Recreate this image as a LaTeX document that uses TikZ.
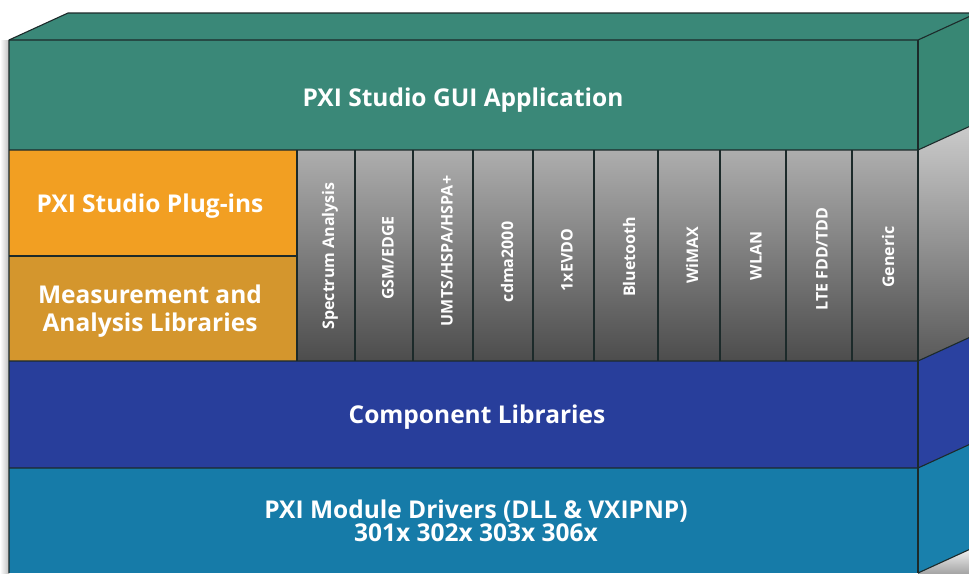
\documentclass[tikz,border=0pt]{standalone}
\usepackage{fontspec}
\setmainfont{Open Sans}
\definecolor{tealF}{HTML}{3A8878}
\definecolor{tealS}{HTML}{388774}
\definecolor{orangeF}{HTML}{F29F22}
\definecolor{ochreF}{HTML}{D4962D}
\definecolor{blueF}{HTML}{283E9B}
\definecolor{blueS}{HTML}{2A41A0}
\definecolor{lblueF}{HTML}{167BA8}
\definecolor{lblueS}{HTML}{1980AC}
\definecolor{edgeC}{HTML}{1C2A2A}
\begin{document}
\begin{tikzpicture}[x=1pt,y=-1pt,
  edge/.style={draw=edgeC, line width=1.1pt, line join=round},
  lbl/.style={text=white, font=\bfseries\fontsize{24.5}{28}\selectfont, align=center, inner sep=0pt},
  tight/.style={font=\bfseries\fontsize{24.5}{23}\selectfont},
  collbl/.style={text=white, font=\bfseries\fontsize{16}{19}\selectfont, rotate=90, inner sep=0pt}]
\useasboundingbox (0,0) rectangle (969,573);
\clip (0,0) rectangle (969,573);
% soft shadow at left and bottom right
\shade[left color=white, right color=black!25] (0,40) rectangle (9,573);
\shade[top color=white, bottom color=black!35] (918,545) -- (969,545) -- (969,573) -- (918,573) -- cycle;
% top face
\fill[tealF] (9,40) -- (68,13) -- (977,13) -- (918,40) -- cycle;
% side faces
\fill[tealS] (918,40) -- (977,13) -- (977,123) -- (918,150) -- cycle;
\shade[top color=black!20, bottom color=black!65] (918,150) -- (977,123) -- (977,334) -- (918,361) -- cycle;
\fill[blueS] (918,361) -- (977,334) -- (977,441) -- (918,468) -- cycle;
\fill[lblueS] (918,468) -- (977,441) -- (977,546) -- (918,573) -- cycle;
% front faces
\fill[tealF] (9,40) rectangle (918,150);
\fill[orangeF] (9,150) rectangle (297,256);
\fill[ochreF] (9,256) rectangle (297,361);
\shade[top color=black!32, bottom color=black!70] (297,150) rectangle (918,361);
\fill[blueF] (9,361) rectangle (918,468);
\fill[lblueF] (9,468) rectangle (918,573);
% edges
\draw[edge] (9,573) -- (9,40) -- (68,13) -- (977,13);
\draw[edge] (9,40) -- (918,40) -- (977,13);
\draw[edge] (918,40) -- (918,573);
\draw[edge] (9,150) -- (918,150) -- (977,123);
\draw[edge] (9,256) -- (297,256);
\draw[edge] (9,361) -- (918,361) -- (977,334);
\draw[edge] (9,468) -- (918,468) -- (977,441);
\draw[edge] (918,573) -- (977,546);
\foreach \x in {297,355,413,473,533,594,658,720,786,852}
  \draw[edge] (\x,150) -- (\x,361);
% labels
\node[lbl] (gui) at (463,100) {PXI Studio GUI Application};
\node[lbl] (plugins) at (150,206) {PXI Studio Plug-ins};
\node[lbl] (meas) at (150,311) {Measurement and\\Analysis Libraries};
\node[lbl] (comp) at (477,417) {Component Libraries};
\node[lbl, tight] (drv) at (476,521) {PXI Module Drivers (DLL \& VXIPNP)\\301x 302x 303x 306x};
% column labels
\node[collbl] (c1) at (330,256) {Spectrum Analysis};
\node[collbl] (c2) at (388,258) {GSM/EDGE};
\node[collbl] (c3) at (447,251) {UMTS/HSPA/HSPA+};
\node[collbl] (c4) at (507,262) {cdma2000};
\node[collbl] (c5) at (567,260) {1xEVDO};
\node[collbl] (c6) at (629,257) {Bluetooth};
\node[collbl] (c7) at (692,255) {WiMAX};
\node[collbl] (c8) at (756,256) {WLAN};
\node[collbl] (c9) at (822,259) {LTE FDD/TDD};
\node[collbl] (c10) at (888,257) {Generic};
\end{tikzpicture}
\end{document}
